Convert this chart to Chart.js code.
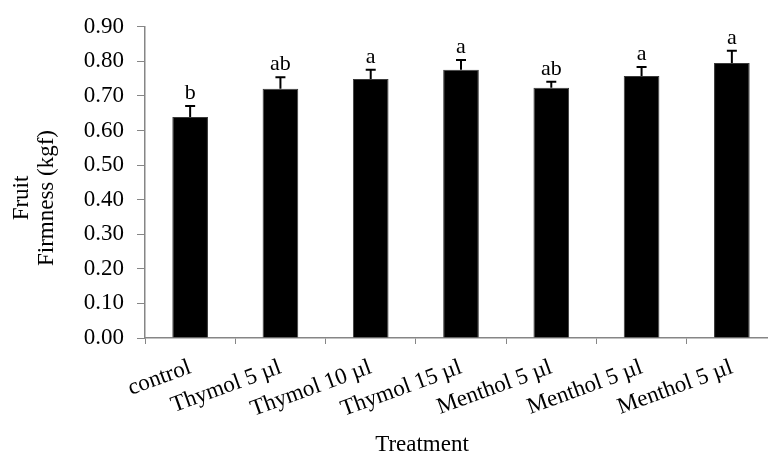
<!DOCTYPE html>
<html>
<head>
<meta charset="utf-8">
<script src="https://cdn.jsdelivr.net/npm/chart.js@4"></script>
<style>
  html, body { margin: 0; padding: 0; background: #fff; }
  #wrap { width: 768px; height: 454px; overflow: hidden; }
</style>
</head>
<body>
<div id="wrap"><canvas id="chart" width="778" height="454"></canvas></div>
<script>
const categories = ['control', 'Thymol 5 µl', 'Thymol 10 µl', 'Thymol 15 µl', 'Menthol 5 µl', 'Menthol 5 µl', 'Menthol 5 µl'];
const firmness = [0.639, 0.721, 0.749, 0.776, 0.724, 0.758, 0.795];
const errors = [0.032, 0.033, 0.027, 0.028, 0.017, 0.026, 0.036];
const letters = ['b', 'ab', 'a', 'a', 'ab', 'a', 'a'];
const yMin = 0, yMax = 0.9, yStep = 0.1;

const serif = '"Liberation Serif", "Times New Roman", serif';
const axisGrey = '#868686';

// error bars (plus side only) and the letters above them
const errorBars = {
  id: 'errorBars',
  afterDatasetsDraw(chart) {
    const ctx = chart.ctx;
    const y = chart.scales.y;
    const meta = chart.getDatasetMeta(0);
    ctx.save();
    ctx.strokeStyle = '#000';
    ctx.lineWidth = 2;
    ctx.fillStyle = '#000';
    ctx.font = '22px ' + serif;
    ctx.textAlign = 'center';
    ctx.textBaseline = 'alphabetic';
    meta.data.forEach((bar, i) => {
      const top = y.getPixelForValue(firmness[i] + errors[i]);
      ctx.beginPath();
      ctx.moveTo(bar.x, bar.y);
      ctx.lineTo(bar.x, top);
      ctx.moveTo(bar.x - 5, top);
      ctx.lineTo(bar.x + 5, top);
      ctx.stroke();
      ctx.fillText(letters[i], bar.x, top - 7);
    });
    ctx.restore();
  }
};

// axis titles placed where the original has them
const axisTitles = {
  id: 'axisTitles',
  afterDraw(chart) {
    const ctx = chart.ctx;
    ctx.save();
    ctx.fillStyle = '#000';
    ctx.font = '23px ' + serif;
    ctx.textAlign = 'center';
    ctx.textBaseline = 'alphabetic';
    ctx.fillText('Treatment', 422, 451);
    ctx.translate(0, 198);
    ctx.rotate(-Math.PI / 2);
    ctx.fillText('Fruit', 0, 28);
    ctx.fillText('Firmness (kgf)', 0, 53);
    ctx.restore();
  }
};

new Chart(document.getElementById('chart'), {
  type: 'bar',
  data: {
    labels: categories,
    datasets: [{
      data: firmness,
      backgroundColor: '#000',
      borderColor: '#3a3a3a',
      borderWidth: 1,
      categoryPercentage: 1,
      barPercentage: 0.395
    }]
  },
  options: {
    responsive: false,
    animation: false,
    layout: { padding: { top: 23, right: 1, bottom: 0, left: 0 } },
    plugins: { legend: { display: false }, tooltip: { enabled: false } },
    scales: {
      x: {
        grid: { display: true, drawOnChartArea: false, drawTicks: true, tickLength: 6, color: axisGrey, offset: true },
        border: { color: axisGrey, width: 1.5 },
        ticks: {
          color: '#000',
          font: { family: serif, size: 23 },
          minRotation: 20,
          maxRotation: 20,
          autoSkip: false,
          padding: 10
        },
        afterFit(scale) { scale.height = 116; }
      },
      y: {
        min: yMin,
        max: yMax,
        grid: { display: true, drawOnChartArea: false, drawTicks: true, tickLength: 8, color: axisGrey },
        border: { color: axisGrey, width: 1.5 },
        ticks: {
          stepSize: yStep,
          color: '#000',
          font: { family: serif, size: 23 },
          padding: 13,
          callback: v => v.toFixed(2)
        },
        afterFit(scale) { scale.width = 145; }
      }
    }
  },
  plugins: [errorBars, axisTitles]
});
</script>
</body>
</html>
